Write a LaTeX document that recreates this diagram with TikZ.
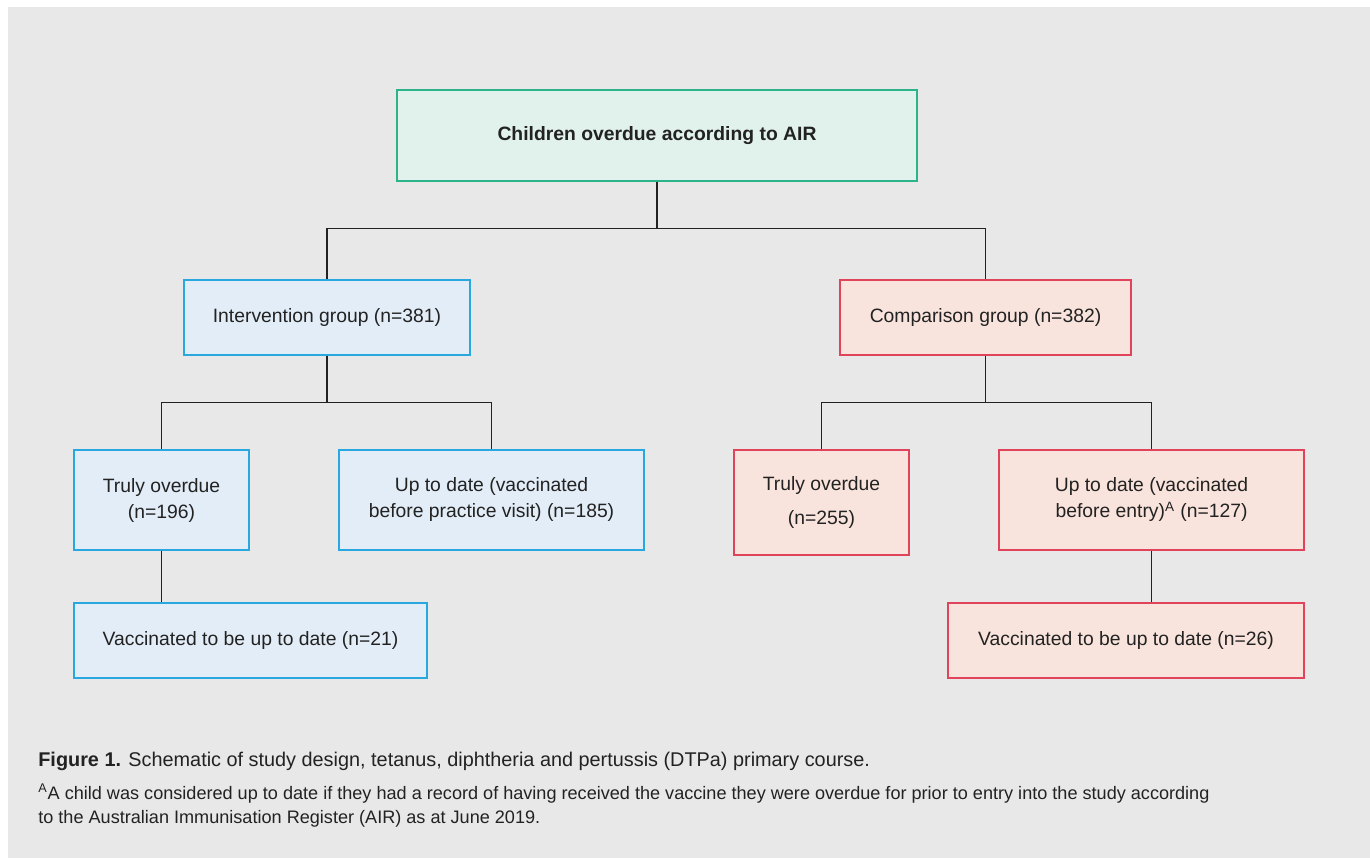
\documentclass[tikz,border=0pt]{standalone}
\usepackage{fontspec}
\setmainfont{Liberation Sans}
\usepackage{tikz}
\usetikzlibrary{arrows.meta, positioning, calc}
\definecolor{PanelGray}{HTML}{E8E8E8}
\definecolor{InkGray}{HTML}{222222}
\definecolor{TealLine}{HTML}{2DB38A}
\definecolor{TealFill}{HTML}{E1F2EC}
\definecolor{SkyLine}{HTML}{29A8E0}
\definecolor{SkyFill}{HTML}{E3EDF7}
\definecolor{RoseLine}{HTML}{E0435A}
\definecolor{RoseFill}{HTML}{F8E4DC}

\begin{document}
\begin{tikzpicture}[>=Stealth, x=0.02cm, y=0.02cm,
    every node/.style={text=InkGray, font=\fontsize{11}{14.8}\selectfont},
    box/.style={draw, line width=0.8pt, inner sep=0pt, align=center},
    topbox/.style={box, draw=TealLine, fill=TealFill},
    introbox/.style={box, draw=SkyLine, fill=SkyFill},
    compbox/.style={box, draw=RoseLine, fill=RoseFill},
    link/.style={draw=InkGray, line width=0.8pt}]
        % Panel
        \useasboundingbox (0,0) rectangle (1370,-858);
        \fill [PanelGray] (8,-7) rectangle (1370,-858);

        % Top of the tree
        \node [topbox, minimum width=520*0.02cm, minimum height=91*0.02cm] (overdue) at (657,-135.5) {\textbf{Children overdue according to AIR}};

        % Intervention side
        \node [introbox, minimum width=286*0.02cm, minimum height=75*0.02cm] (interv) at (327,-317.5) {Intervention group (n=381)};
        \node [introbox, minimum width=175*0.02cm, minimum height=100*0.02cm] (itruly) at (161.5,-500) {Truly overdue\\(n=196)};
        \node [introbox, minimum width=305*0.02cm, minimum height=100*0.02cm] (iuptodate) at (491.5,-500) {Up to date (vaccinated\\before practice visit) (n=185)};
        \node [introbox, minimum width=353*0.02cm, minimum height=75*0.02cm] (ivacc) at (250.5,-640.5) {Vaccinated to be up to date (n=21)};

        % Comparison side
        \node [compbox, minimum width=291*0.02cm, minimum height=75*0.02cm] (comp) at (985.5,-317.5) {Comparison group (n=382)};
        \node [compbox, minimum width=175*0.02cm, minimum height=105*0.02cm] (ctruly) at (821.5,-502.5) {Truly overdue\\[4pt](n=255)};
        \node [compbox, minimum width=305*0.02cm, minimum height=100*0.02cm] (cuptodate) at (1151.5,-500) {Up to date (vaccinated\\before entry)\textsuperscript{A} (n=127)};
        \node [compbox, minimum width=356*0.02cm, minimum height=75*0.02cm] (cvacc) at (1126,-640.5) {Vaccinated to be up to date (n=26)};

        % Connectors
        \draw [link] (overdue.south) -- ++(0,-47) -| (interv.north);
        \draw [link] (overdue.south) -- ++(0,-47) -| (comp.north);
        \draw [link] (interv.south) -- ++(0,-47) -| (itruly.north);
        \draw [link] (interv.south) -- ++(0,-47) -| (iuptodate.north);
        \draw [link] (comp.south) -- ++(0,-47) -| (ctruly.north);
        \draw [link] (comp.south) -- ++(0,-47) -| (cuptodate.north);
        \draw [link] (itruly.south) -- (ivacc.north -| itruly.south);
        \draw [link] (cuptodate.south) -- (cvacc.north -| cuptodate.south);

        % Caption and footnote
        \node [anchor=base west, inner sep=0pt, font=\fontsize{11.3}{14}\selectfont] (caption) at (38,-766) {\textbf{Figure 1.} Schematic of study design, tetanus, diphtheria and pertussis (DTPa) primary course.};
        \node [anchor=base west, inner sep=0pt, font=\fontsize{10.3}{13.6}\selectfont, align=left] (footnote) at (38,-823) {\textsuperscript{A}A child was considered up to date if they had a record of having received the vaccine they were overdue for prior to entry into the study according\\to the Australian Immunisation Register (AIR) as at June 2019.};
    \end{tikzpicture}
\end{document}
